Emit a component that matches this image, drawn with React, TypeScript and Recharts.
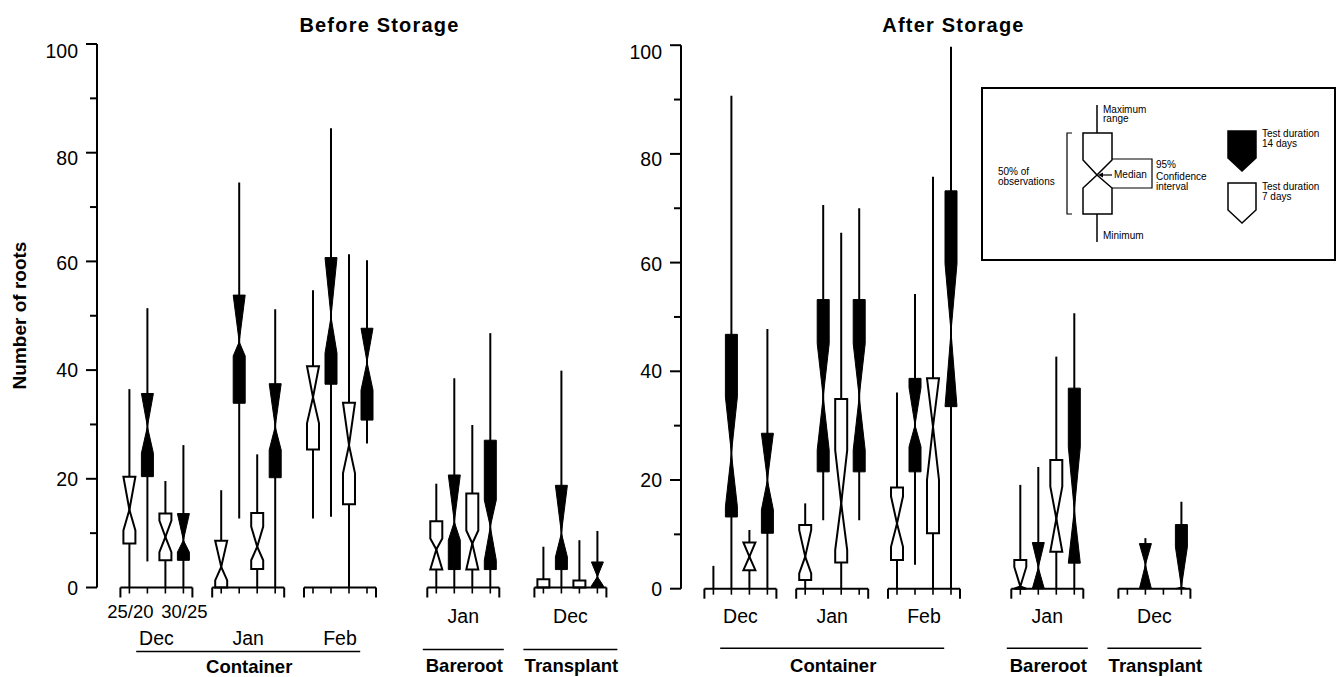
import React from 'react';
import { ComposedChart, Bar, XAxis, YAxis, ReferenceLine, Legend } from 'recharts';

// x position (in box slots) of the first box of each group
const groupStarts = [0, 5.1, 10.2, 17.05, 23];
const groupMonths = ['Dec', 'Jan', 'Feb', 'Jan', 'Dec'];
const categoryNames = ['Container', 'Bareroot', 'Transplant'];
const categoryGroup = [1, 3, 4];
const regimeLabels = ['25/20', '30/25'];
// test duration (days) of the four boxes inside a group
const durations = [7, 14, 7, 14];
const yTicks = [0, 10, 20, 30, 40, 50, 60, 70, 80, 90, 100];

// Before storage: Dec, Jan, Feb (container), Jan (bareroot), Dec (transplant)
const beforeMin = [0, 4.8, 0, 0, 0, 12.7, 0, 0, 12.7, 13.0, 0, 26.5, 0, 0, 0, 0, 0, 0, 0, 0];
const beforeQ1 = [8.1, 20.4, 5.0, 5.0, 0, 33.9, 3.4, 20.2, 25.4, 37.4, 15.3, 30.8, 3.3, 3.3, 3.3, 3.3, 0, 3.3, 0, 0];
const beforeNotchLo = [10.5, 24.7, 6.5, 6.5, 1.3, 42.6, 5.0, 25.3, 30.2, 43.1, 21.0, 36.3, 3.3, 8.7, 3.3, 5.0, 0, 5.6, 0, 0.3];
const beforeMedian = [14.3, 29.6, 9.3, 8.7, 3.8, 45.2, 7.5, 29.6, 35.0, 49.8, 26.2, 41.5, 7.0, 12.1, 8.1, 11.2, 0, 10.0, 0, 2.0];
const beforeNotchHi = [20.4, 35.7, 12.3, 13.6, 8.6, 53.8, 11.2, 37.5, 40.7, 60.7, 34.0, 47.7, 9.0, 20.7, 10.5, 16.1, 0, 18.8, 0, 4.7];
const beforeQ3 = [20.4, 35.7, 13.6, 13.6, 8.6, 53.8, 13.7, 37.5, 40.7, 60.7, 34.0, 47.7, 12.2, 20.7, 17.3, 27.1, 1.5, 18.8, 1.3, 4.7];
const beforeMax = [36.5, 51.4, 19.6, 26.2, 17.9, 74.5, 24.5, 51.2, 54.7, 84.5, 61.3, 60.2, 19.1, 38.5, 29.9, 46.8, 7.5, 39.9, 8.7, 10.4];

// After storage
const afterMin = [0, 0, 0, 0, 0, 12.6, 0, 12.6, 0, 4.4, 0, 0, 0, 0, 0, 0, 0, 0, 0, 0];
const afterQ1 = [0, 13.2, 3.4, 10.2, 1.6, 21.5, 4.8, 21.5, 5.3, 21.5, 10.2, 33.5, 0, 0, 6.8, 4.7, 0, 0, 0, 0];
const afterNotchLo = [0, 15.1, 3.4, 14.5, 2.8, 25.5, 7.1, 25.5, 7.7, 26.1, 20.0, 33.5, 0, 0, 6.8, 4.7, 0, 0, 0, 0];
const afterMedian = [0, 24.9, 5.9, 20.0, 5.9, 35.3, 15.7, 35.3, 12.0, 30.1, 29.8, 47.3, 0.4, 3.9, 12.9, 14.5, 0, 4.4, 0, 0.3];
const afterNotchHi = [0, 35.3, 8.5, 28.6, 10.8, 45.1, 25.5, 45.1, 17.0, 37.0, 38.7, 59.8, 4.0, 8.5, 18.8, 26.1, 0, 8.3, 0, 7.7];
const afterQ3 = [0, 46.8, 8.5, 28.6, 11.7, 53.2, 34.9, 53.2, 18.6, 38.7, 38.7, 73.2, 5.3, 8.5, 23.7, 36.9, 0, 8.3, 0, 11.8];
const afterMax = [4.2, 90.7, 10.8, 47.8, 15.7, 70.6, 65.5, 70.0, 36.1, 54.2, 75.8, 99.7, 19.1, 22.4, 42.7, 50.7, 0, 9.3, 0, 16.0];

type Row = { x: number; min: number; q1: number; lo: number; med: number; hi: number; q3: number; max: number; days: number };

function buildRows(min: number[], q1: number[], lo: number[], med: number[], hi: number[], q3: number[], max: number[]): Row[] {
  return min.map((_, i) => ({
    x: groupStarts[Math.floor(i / 4)] + (i % 4),
    min: min[i], q1: q1[i], lo: lo[i], med: med[i], hi: hi[i], q3: q3[i], max: max[i],
    days: durations[i % 4],
  }));
}

const beforeRows = buildRows(beforeMin, beforeQ1, beforeNotchLo, beforeMedian, beforeNotchHi, beforeQ3, beforeMax);
const afterRows = buildRows(afterMin, afterQ1, afterNotchLo, afterMedian, afterNotchHi, afterQ3, afterMax);

const FONT = '"Liberation Sans", Arial, Helvetica, sans-serif';

type Mark = {
  v: number;
  kind: 'end' | 'box' | 'label';
  sub?: string;
  month?: string;
  monthDy?: number;
  cat?: string;
  catDy?: number;
  lineDy?: number;
  half?: number;
};

const underlineHalf = [112, 40.5, 47];

function buildMarks(panel: 'before' | 'after'): Mark[] {
  const marks: Mark[] = [];
  groupStarts.forEach((s, g) => {
    const container = g < 3;
    marks.push({ v: s - 0.5, kind: 'end' });
    marks.push({ v: s + 3.5, kind: 'end' });
    for (let k = 0; k < 4; k++) {
      let sub: string | undefined;
      if (panel === 'before' && g === 0 && k === 0) sub = regimeLabels[0];
      if (panel === 'before' && g === 0 && k === 3) sub = regimeLabels[1];
      marks.push({ v: s + k, kind: 'box', sub });
    }
    const ci = categoryGroup.indexOf(g);
    const m: Mark = {
      v: s + 1.5,
      kind: 'label',
      month: groupMonths[g],
      monthDy: panel === 'before' ? (container ? 57.5 : 35) : 34.5,
    };
    if (ci >= 0) {
      m.cat = categoryNames[ci];
      m.half = underlineHalf[ci];
      if (panel === 'before') {
        m.catDy = container ? 85.5 : 84.5;
        m.lineDy = container ? 64 : 62;
      } else {
        m.catDy = 83;
        m.lineDy = 59.5;
      }
    }
    marks.push(m);
  });
  return marks;
}

const beforeMarks = buildMarks('before');
const afterMarks = buildMarks('after');

const XTick = (props: any) => {
  const { x, y, payload, marks } = props;
  const m: Mark | undefined = marks.find((t: Mark) => Math.abs(t.v - payload.value) < 1e-6);
  if (!m) return <g />;
  if (m.kind === 'end') {
    return <line x1={x} x2={x} y1={y} y2={y + 10} stroke="#000" strokeWidth={2} />;
  }
  if (m.kind === 'box') {
    return (
      <g>
        <line x1={x} x2={x} y1={y} y2={y + 6} stroke="#000" strokeWidth={1.6} />
        {m.sub && (
          <text x={x + 1} y={y + 30.5} textAnchor="middle" fontFamily={FONT} fontSize={18.5} fill="#000">
            {m.sub}
          </text>
        )}
      </g>
    );
  }
  return (
    <g>
      <text x={x} y={y + (m.monthDy || 0)} textAnchor="middle" fontFamily={FONT} fontSize={19.5} fill="#000">
        {m.month}
      </text>
      {m.cat && (
        <g>
          <line x1={x - (m.half || 0)} x2={x + (m.half || 0)} y1={y + (m.lineDy || 0)} y2={y + (m.lineDy || 0)} stroke="#000" strokeWidth={1.6} />
          <text x={x + 1} y={y + (m.catDy || 0)} textAnchor="middle" fontFamily={FONT} fontSize={18.5} fontWeight="bold" fill="#000">
            {m.cat}
          </text>
        </g>
      )}
    </g>
  );
};

const labelShift: Record<number, number> = { 100: 7, 80: 5, 60: 1.5 };

const YTick = (props: any) => {
  const { x, y, payload } = props;
  const v = payload.value as number;
  const major = v % 20 === 0;
  return (
    <g>
      <line x1={x - (major ? 11 : 7)} x2={x} y1={y} y2={y} stroke="#000" strokeWidth={2} />
      {major && (
        <text x={x - 19} y={y + (labelShift[v] || 0)} dy="0.36em" textAnchor="end" fontFamily={FONT} fontSize={19.5} fill="#000">
          {v}
        </text>
      )}
    </g>
  );
};

const NotchBox = (props: any) => {
  const { x, y, width, height, payload } = props;
  const d: Row = payload;
  if (!(d.max > d.min)) return <g />;
  const top = Math.min(y, y + height);
  const bottom = Math.max(y, y + height);
  const py = (v: number) => bottom - ((bottom - top) * (v - d.min)) / (d.max - d.min);
  const L = x;
  const R = x + width;
  const C = x + width / 2;
  const hi = Math.min(d.hi, d.q3);
  const lo = Math.max(d.lo, d.q1);
  const dark = d.days === 14;
  const pts = [
    [L, py(d.q3)], [R, py(d.q3)], [R, py(hi)], [C, py(d.med)], [R, py(lo)], [R, py(d.q1)],
    [L, py(d.q1)], [L, py(lo)], [C, py(d.med)], [L, py(hi)],
  ].map((p) => p.join(',')).join(' ');
  return (
    <g>
      <line x1={C} x2={C} y1={py(d.max)} y2={py(d.min)} stroke="#000" strokeWidth={2} />
      {d.q3 > d.q1 && (
        <polygon points={pts} fill={dark ? '#000' : '#fff'} stroke="#000" strokeWidth={dark ? 1 : 2} strokeLinejoin="miter" />
      )}
    </g>
  );
};

const LegendBox = () => {
  const t = { fontFamily: FONT, fontSize: 10, fill: '#000' } as const;
  return (
    <svg width={356} height={175}>
      <rect x={1} y={1} width={353} height={172} fill="#fff" stroke="#000" strokeWidth={2} />
      <line x1={116} x2={116} y1={18} y2={155} stroke="#000" strokeWidth={1.5} />
      <polygon points="102,46 131,46 131,73 116,88 131,101 131,127 102,127 102,101 116,88 102,73" fill="#fff" stroke="#000" strokeWidth={1.5} />
      <polyline points="91,46 86,46 86,127 91,127" fill="none" stroke="#000" strokeWidth={1.2} />
      <polyline points="131,72 171,72 171,101 131,101" fill="none" stroke="#000" strokeWidth={1.2} />
      <line x1={131} x2={119} y1={88} y2={88} stroke="#000" strokeWidth={1.2} />
      <polygon points="117,88 122,85.5 122,90.5" fill="#000" />
      <text x={17} y={88} {...t}>50% of</text>
      <text x={17} y={98} {...t}>observations</text>
      <text x={133} y={91} {...t}>Median</text>
      <text x={175} y={81} {...t}>95%</text>
      <text x={175} y={93} {...t}>Confidence</text>
      <text x={175} y={103} {...t}>interval</text>
      <text x={122} y={26} {...t}>Maximum</text>
      <text x={122} y={35} {...t}>range</text>
      <text x={122} y={152} {...t}>Minimum</text>
      <polygon points="247,44 275,44 275,71 261,84 247,71" fill="#000" stroke="#000" strokeWidth={1.5} />
      <text x={281} y={50} {...t}>Test duration</text>
      <text x={281} y={60} {...t}>14 days</text>
      <polygon points="247,96 275,96 275,123 261,136 247,123" fill="#fff" stroke="#000" strokeWidth={1.5} />
      <text x={281} y={103} {...t}>Test duration</text>
      <text x={281} y={113} {...t}>7 days</text>
    </svg>
  );
};

function Panel({ rows, marks, top, width, right, legend }: { rows: Row[]; marks: Mark[]; top: number; width: number; right: number; legend?: boolean }) {
  return (
    <ComposedChart width={width} height={677} data={rows} margin={{ top, right, bottom: 0, left: 37 }}>
      <XAxis
        type="number"
        dataKey="x"
        domain={[-1.8, 27]}
        ticks={marks.map((m) => m.v)}
        interval={0}
        height={677 - top - 543.5}
        axisLine={false}
        tickLine={false}
        tickSize={0}
        tickMargin={0}
        tick={<XTick marks={marks} />}
      />
      <YAxis
        type="number"
        domain={[0, 100]}
        ticks={yTicks}
        interval={0}
        width={60}
        axisLine={{ stroke: '#000', strokeWidth: 2 }}
        tickLine={false}
        tickSize={0}
        tickMargin={0}
        tick={<YTick />}
      />
      {groupStarts.map((s) => (
        <ReferenceLine
          key={s}
          segment={[{ x: s - 0.5, y: 0 }, { x: s + 3.5, y: 0 }]}
          stroke="#000"
          strokeWidth={2}
          ifOverflow="visible"
        />
      ))}
      <Bar dataKey={(d: Row) => [d.min, d.max]} barSize={12} shape={<NotchBox />} isAnimationActive={false} />
      {legend && (
        <Legend
          layout="horizontal"
          verticalAlign="middle"
          align="center"
          content={() => <LegendBox />}
          wrapperStyle={{ left: 397, top: 87, width: 356, height: 175 }}
        />
      )}
    </ComposedChart>
  );
}

export default function App() {
  return (
    <div style={{ position: 'absolute', left: 0, top: 0, width: 1338, height: 677, background: '#fff', overflow: 'hidden' }}>
      <div style={{ position: 'absolute', left: 0, top: 0 }}>
        <Panel rows={beforeRows} marks={beforeMarks} top={44} width={625} right={9.6} />
      </div>
      <div style={{ position: 'absolute', left: 584, top: 0 }}>
        <Panel rows={afterRows} marks={afterMarks} top={45.2} width={754} right={138.6} legend />
      </div>
      <svg width={1338} height={677} style={{ position: 'absolute', left: 0, top: 0, pointerEvents: 'none' }}>
        <text x={379.5} y={31.5} textAnchor="middle" fontFamily={FONT} fontSize={20} fontWeight="bold" letterSpacing={1.2}>
          Before Storage
        </text>
        <text x={953.5} y={31.5} textAnchor="middle" fontFamily={FONT} fontSize={20} fontWeight="bold" letterSpacing={1.2}>
          After Storage
        </text>
        <text x={26} y={315.5} transform="rotate(-90 26 315.5)" textAnchor="middle" fontFamily={FONT} fontSize={19} fontWeight="bold">
          Number of roots
        </text>
      </svg>
    </div>
  );
}
